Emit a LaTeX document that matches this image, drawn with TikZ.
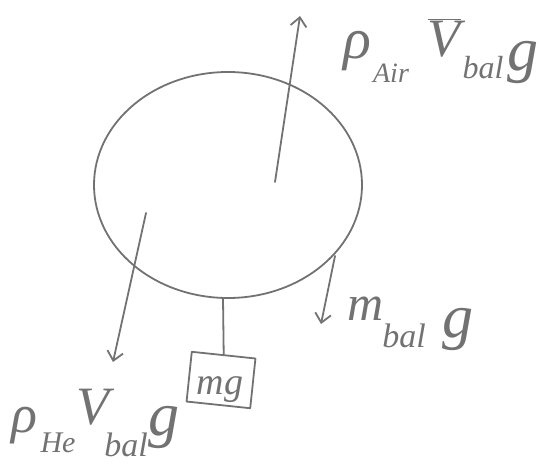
\documentclass[tikz,border=0pt]{standalone}
\usepackage{fontspec}
\setmainfont{Liberation Serif}
\usetikzlibrary{arrows.meta,shapes.geometric}
\definecolor{pencil}{HTML}{727272}
\newcommand\fsz[1]{\fontsize{#1}{#1}\selectfont\itshape}
\tikzset{
  stroke/.style={draw=pencil, line width=1.8pt, line cap=round, line join=round},
  force/.style={stroke, -{Straight Barb[length=9pt,width=16pt,line width=1.8pt]}},
  lbl/.style={text=pencil, inner sep=0pt, anchor=base},
}
\begin{document}
\begin{tikzpicture}[x=1pt,y=-1pt]
\useasboundingbox (0,0) rectangle (548,464);
% balloon
\node[stroke, ellipse, minimum width=268pt, minimum height=226pt, inner sep=0pt] (bal) at (228,185) {};
% forces
\coordinate (cUp) at (275,182);
\coordinate (tUp) at (300,16);
\draw[force] (cUp) -- (tUp);
\coordinate (cHe) at (146,213);
\coordinate (tHe) at (113,362);
\draw[force] (cHe) -- (tHe);
\coordinate (cM) at (335,256);
\coordinate (tM) at (321,324);
\draw[force] (cM) -- (tM);
% hanging mass
\node[stroke, rectangle, minimum width=64pt, minimum height=50pt, rotate=-6, inner sep=0pt] (box) at (221,380) {};
\coordinate (sTop) at (223,298);
\draw[stroke] (sTop) -- (box.north);
\node[lbl] (mg) at (220,394) {\fsz{38}mg};
% top label
\node[lbl] (rA) at (357,58) {\fsz{58}ρ};
\node[lbl] (air) at (391,82) {\fsz{28}Air};
\node[lbl] (vA) at (444,56) {\fsz{54}$\overline{\hbox{\fsz{54}V}}$};
\node[lbl] (balA) at (483,78) {\fsz{32}bal};
\node[lbl] (gA) at (523,70) {\fsz{62}g};
% bottom label
\node[lbl] (rH) at (24,432) {\fsz{54}ρ};
\node[lbl] (he) at (58,452) {\fsz{30}He};
\node[lbl] (vH) at (93,424) {\fsz{54}V};
\node[lbl] (balH) at (126,456) {\fsz{34}bal};
\node[lbl] (gH) at (164,435) {\fsz{62}g};
% right label
\node[lbl] (mB) at (366,320) {\fsz{50}m};
\node[lbl] (balM) at (404,347) {\fsz{34}bal};
\node[lbl] (gM) at (458,337) {\fsz{62}g};
\end{tikzpicture}
\end{document}
